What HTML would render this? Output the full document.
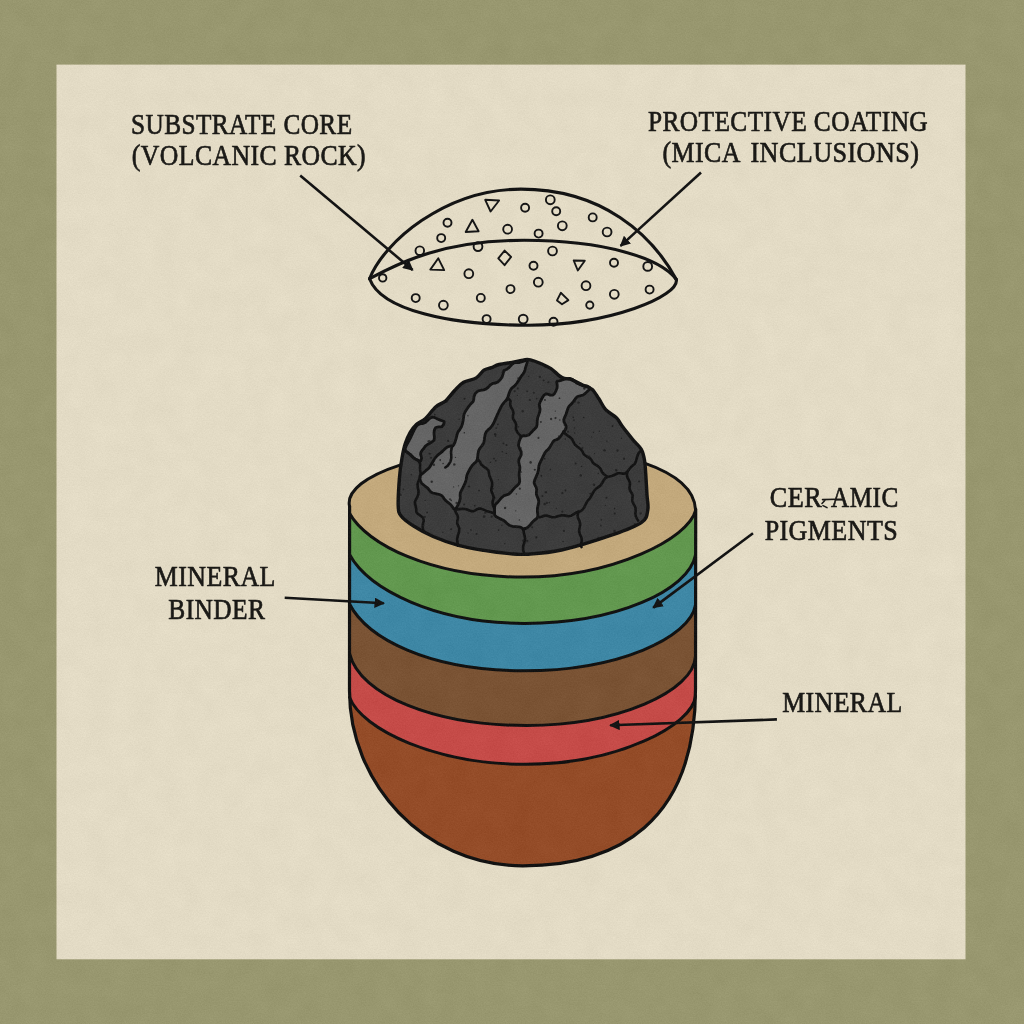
<!DOCTYPE html>
<html><head><meta charset="utf-8">
<style>
html,body{margin:0;padding:0;background:#98976f;}
svg{display:block;}
text{font-family:"Liberation Serif",serif;fill:#1b1a17;stroke:#1b1a17;stroke-width:0.7px;}
</style></head>
<body>
<svg width="1024" height="1024" viewBox="0 0 1024 1024">
<defs>
<marker id="ah" viewBox="0 0 10.5 10.5" refX="9.3" refY="5.25" markerWidth="10.5" markerHeight="10.5" markerUnits="userSpaceOnUse" orient="auto">
<path d="M0,0 L10.5,5.25 L0,10.5 Z" fill="#141414"/>
</marker>
<filter id="tex" x="0" y="0" width="1024" height="1024" filterUnits="userSpaceOnUse" color-interpolation-filters="sRGB">
<feTurbulence type="fractalNoise" baseFrequency="0.75" numOctaves="2" seed="7" result="n1"/>
<feColorMatrix in="n1" type="matrix" values="1 0 0 0 0  1 0 0 0 0  1 0 0 0 0  0 0 0 0 1" result="g1"/>
<feTurbulence type="fractalNoise" baseFrequency="0.045" numOctaves="3" seed="3" result="n2"/>
<feColorMatrix in="n2" type="matrix" values="1 0 0 0 0  1 0 0 0 0  1 0 0 0 0  0 0 0 0 1" result="g2"/>
<feComposite in="SourceGraphic" in2="g1" operator="arithmetic" k1="0" k2="1" k3="0.06" k4="-0.03" result="s1"/>
<feComposite in="s1" in2="g2" operator="arithmetic" k1="0" k2="1" k3="0.025" k4="-0.0125"/>
</filter>
</defs>
<g filter="url(#tex)">
<rect x="0" y="0" width="1024" height="1024" fill="#98976f"/>
<rect x="56.5" y="64.6" width="909" height="894.7" fill="#e3dbc5"/>

<!-- labels -->
<g font-size="30" letter-spacing="0.5">
<text transform="matrix(0.8429 0 0 1 131.01 0)" x="0" y="133.8">SUBSTRATE CORE</text>
<text transform="matrix(0.8572 0 0 1 131.84 0)" x="0" y="164.8">(VOLCANIC ROCK)</text>
<text transform="matrix(0.8456 0 0 1 647.95 0)" x="0" y="130.8">PROTECTIVE COATING</text>
<text transform="matrix(0.8633 0 0 1 662.54 0)" x="0" y="162.4">(MICA</text>
<text transform="matrix(0.8717 0 0 1 750.43 0)" x="0" y="162.4">INCLUSIONS)</text>
<text transform="matrix(0.8729 0 0 1 769.83 0)" x="0" y="507.4">CER</text>
<text transform="matrix(0.8410 0 0 1 831.10 0)" x="0" y="507.4">AMIC</text>
<text transform="matrix(0.8669 0 0 1 764.63 0)" x="0" y="540.0">PIGMENTS</text>
<text transform="matrix(0.8635 0 0 1 154.84 0)" x="0" y="586.3">MINERAL</text>
<text transform="matrix(0.8465 0 0 1 168.35 0)" x="0" y="618.6">BINDER</text>
<text transform="matrix(0.8599 0 0 1 782.24 0)" x="0" y="712.2">MINERAL</text>
<path d="M822.5,499.6 L836,499.2 M822,503.5 L825.5,499.8 M823,505.6 L827,507.6" fill="none" stroke="#1b1a17" stroke-width="1.6" stroke-linecap="round"/>
</g>

<!-- particles -->
<g fill="none" stroke="#161616" stroke-width="1.9" stroke-linejoin="round">
<circle cx="550.3" cy="199.8" r="4.4"/>
<circle cx="525.1" cy="207.8" r="4"/>
<circle cx="556.2" cy="211.2" r="4"/>
<circle cx="447.5" cy="222.8" r="4"/>
<circle cx="507.6" cy="229.2" r="4.4"/>
<circle cx="538.6" cy="233.6" r="4"/>
<circle cx="441.2" cy="238.1" r="4"/>
<circle cx="419.8" cy="250.7" r="4.3"/>
<circle cx="478" cy="246.6" r="4.4"/>
<circle cx="552.5" cy="251" r="4.4"/>
<circle cx="533.5" cy="265.7" r="4"/>
<circle cx="468.8" cy="273.7" r="4.4"/>
<circle cx="538.3" cy="282.2" r="4.4"/>
<circle cx="510.5" cy="289.1" r="4"/>
<circle cx="480.8" cy="297.9" r="4"/>
<circle cx="443.4" cy="305.2" r="4.4"/>
<circle cx="486.6" cy="319.1" r="4"/>
<circle cx="523.2" cy="319.1" r="4.4"/>
<circle cx="553.5" cy="321.8" r="4"/>
<circle cx="562.3" cy="225.8" r="4.4"/>
<circle cx="592.7" cy="217.4" r="4"/>
<circle cx="607.1" cy="232" r="4.4"/>
<circle cx="614" cy="262.8" r="4"/>
<circle cx="647.7" cy="266.4" r="4.4"/>
<circle cx="586" cy="285.7" r="4.4"/>
<circle cx="614.3" cy="294.3" r="4.4"/>
<circle cx="649.6" cy="289.6" r="4"/>
<circle cx="589.8" cy="305.1" r="3.6"/>
<circle cx="382.7" cy="277.9" r="3.7"/>
<circle cx="415.7" cy="298.1" r="4"/>
<path d="M485.2,199.8 L499.1,200.5 L490.6,211.5 Z"/>
<path d="M472.4,219.8 L478.6,231.3 L465.7,232 Z"/>
<path d="M438.3,258.3 L444.2,270.1 L430.3,269.6 Z"/>
<path d="M573.7,260.5 L584.8,260.8 L577.8,270.5 Z"/>
<path d="M504.6,250.6 L511.1,256.9 L504.6,265.2 L498.3,258.3 Z"/>
<path d="M560.8,292.8 L568.4,300.1 L562,304.2 L557,300.4 Z"/>
</g>
<!-- dome -->
<g fill="none" stroke="#141414" stroke-width="3.1" stroke-linecap="round" stroke-linejoin="round">
<path d="M369.6,278.7 C383.5,242.5 444.9,189.1 520.9,189.1 C602.2,189.1 652.1,234.5 676.3,279.5"/>
<path d="M369.6,278.7 C400.4,261.9 444.8,240.3 524.3,240.3 C604.6,240.3 660.9,258.3 676.3,279.5"/>
<path d="M369.6,278.7 C381.0,310.3 450.3,325.2 528.3,325.2 C610.5,325.2 679.6,295.9 676.3,279.5"/>
</g>

<!-- cup -->
<g stroke="none">
<path d="M349.5,508 L349.5,691 C349.5,782.3 423.1,865.5 522.5,865.8 C616.6,866 695.5,823 695.5,689 L695.5,508 Z" fill="#944c28"/>
<path d="M349.5,508 L349.5,697.3 C361.9,729.9 436.7,764.3 525.8,764.3 C618.6,764.3 692.7,724.9 695.5,696 L695.5,508 Z" fill="#c54b48"/>
<path d="M349.5,508 L349.5,653.3 C359.9,696.0 436.1,725.5 526.6,725.5 C617.4,725.5 693.9,691.8 695.5,656 L695.5,508 Z" fill="#7a5334"/>
<path d="M349.5,508 L349.5,604.0 C367.2,638.0 428,670.8 524.0,670.8 C617.2,670.8 690,638 695.5,605 L695.5,508 Z" fill="#3e87a5"/>
<path d="M349.5,508 L349.5,554.5 C368.8,589.5 435.4,623.4 524.6,623.4 C616.7,623.4 688.6,590.4 695.5,555 L695.5,508 Z" fill="#62984f"/>
<path d="M349.5,513.3 C366.3,544.0 431.0,577.1 522.9,577.1 C614.1,577.1 688.8,537.9 695.5,510.7 L695.5,509.6 C693.9,468.6 613.8,446.8 532.4,446.8 C431.4,446.8 343,475 349.5,506.3 Z" fill="#c3a97c"/>
</g>
<g fill="none" stroke="#121212" stroke-width="3" stroke-linecap="round">
<path d="M349.5,697.3 C361.9,729.9 436.7,764.3 525.8,764.3 C618.6,764.3 692.7,724.9 695.5,696"/>
<path d="M349.5,653.3 C359.9,696.0 436.1,725.5 526.6,725.5 C617.4,725.5 693.9,691.8 695.5,656"/>
<path d="M349.5,604.0 C367.2,638.0 428,670.8 524.0,670.8 C617.2,670.8 690,638 695.5,605"/>
<path d="M349.5,554.5 C368.8,589.5 435.4,623.4 524.6,623.4 C616.7,623.4 688.6,590.4 695.5,555"/>
<path d="M349.5,513.3 C366.3,544.0 431.0,577.1 522.9,577.1 C614.1,577.1 688.8,537.9 695.5,510.7 L695.5,509.6 C693.9,468.6 613.8,446.8 532.4,446.8 C431.4,446.8 343,475 349.5,506.3 Z"/>
<path stroke-width="3.2" d="M349.6,506 L349.5,691 C349.5,782.3 423.1,865.5 522.5,865.8 C616.6,866 695.5,823 695.5,689 L695.7,509"/>
</g>

<!-- rock -->
<g stroke="#141414" stroke-linejoin="round" stroke-linecap="round">
<path fill="#3c3c3c" stroke="none" d="M398.2,506.0 C397.9,499.6 398.8,486.1 399.4,478.1 C400.0,470.1 401.0,463.7 402.0,458.0 C403.0,452.3 403.8,448.2 405.2,443.9 C406.6,439.6 408.3,435.7 410.2,432.4 C412.1,429.1 414.1,426.5 416.6,424.2 C419.2,421.9 422.3,421.4 425.5,418.5 C428.7,415.6 432.2,410.0 435.6,407.0 C439.0,404.0 442.6,403.4 445.8,400.7 C449.0,397.9 451.7,393.6 454.7,390.5 C457.7,387.4 460.0,384.4 463.6,382.3 C467.2,380.2 472.8,379.9 476.2,377.9 C479.6,375.9 481.3,371.9 483.9,370.2 C486.4,368.5 489.0,368.6 491.5,367.7 C494.0,366.8 495.3,365.4 499.1,364.5 C502.9,363.6 510.0,362.8 514.3,362.0 C518.6,361.2 522.3,360.0 525.0,359.6 C527.7,359.2 528.0,359.2 530.5,359.8 C533.0,360.4 536.7,361.7 540.1,363.2 C543.5,364.7 547.4,366.3 551.0,368.7 C554.6,371.1 558.6,375.8 562.0,377.6 C565.4,379.4 568.1,378.4 571.5,379.6 C574.9,380.9 579.1,383.5 582.5,385.1 C585.9,386.7 589.3,386.9 592.0,389.2 C594.7,391.5 596.6,395.4 598.9,398.8 C601.2,402.2 602.8,406.5 605.7,409.7 C608.7,412.9 613.9,415.2 616.6,417.9 C619.3,420.6 619.4,422.5 622.1,426.1 C624.8,429.8 629.8,435.9 633.0,439.8 C636.2,443.7 639.4,445.9 641.3,449.3 C643.2,452.7 643.8,456.0 644.5,460.0 C645.2,464.0 645.3,467.3 645.7,473.1 C646.1,478.9 646.6,488.9 647.0,495.0 C647.4,501.1 648.7,505.4 647.8,510.0 C646.9,514.6 647.4,518.3 641.6,522.4 C635.8,526.5 626.2,530.1 612.9,534.7 C599.6,539.3 576.0,546.8 561.6,550.0 C547.2,553.2 535.4,553.6 526.7,554.2 C518.0,554.8 516.4,554.2 509.3,553.6 C502.2,553.0 492.4,551.8 483.9,550.4 C475.4,549.0 467.0,547.7 458.5,545.4 C450.0,543.1 440.5,539.7 433.1,536.5 C425.7,533.3 419.3,529.7 414.0,526.3 C408.7,522.9 403.9,519.6 401.3,516.2 C398.7,512.8 398.5,512.4 398.2,506.0 Z"/>
<path fill="#656565" stroke-width="2.8" d="M405.5,450.5 L405.2,448.5 L406.3,445.7 L408.5,441.7 L410.5,437.8 L411.6,435.5 L412.4,433.7 L413.1,432.2 L414.0,430.3 L415.2,428.0 L417.6,424.9 L420.3,423.7 L422.9,423.5 L425.4,422.4 L427.8,420.2 L429.9,418.3 L431.9,417.1 L433.9,417.3 L436.7,418.6 L440.3,420.1 L442.7,421.0 L444.1,421.6 L444.2,422.7 L443.3,424.9 L441.7,426.9 L438.7,426.9 L435.7,427.5 L434.3,430.1 L434.0,433.4 L434.4,437.1 L434.1,440.1 L432.2,441.7 L429.8,443.2 L427.5,444.5 L425.4,446.2 L423.6,448.6 L421.9,450.7 L420.9,452.4 L420.6,454.3 L421.6,458.0 L420.8,460.9 L418.9,460.6 L415.8,459.3 L413.2,457.5 L412.0,455.9 L410.3,454.3 L407.7,452.6 Z"/>
<path fill="#656565" stroke-width="2.8" d="M527.3,360.6 L525.8,360.5 L523.1,361.5 L519.6,362.5 L516.2,362.3 L513.9,362.8 L511.6,364.7 L509.2,367.4 L507.0,369.2 L505.1,370.0 L503.8,370.8 L503.1,373.9 L502.1,377.2 L500.4,379.5 L498.1,381.9 L495.5,383.0 L492.9,383.4 L490.6,384.8 L488.1,387.3 L485.8,389.2 L483.7,389.9 L481.7,390.1 L478.2,390.8 L475.3,393.5 L474.0,396.6 L473.8,399.4 L473.2,401.4 L471.2,403.4 L468.8,406.3 L466.8,409.2 L465.3,411.5 L464.2,413.8 L463.7,416.1 L463.5,418.0 L463.1,420.7 L462.4,424.0 L461.3,427.1 L459.9,429.3 L458.2,431.6 L457.4,433.4 L456.9,435.4 L456.1,438.6 L454.9,442.5 L453.6,445.0 L453.0,445.8 L452.0,446.0 L450.1,446.1 L447.5,446.8 L444.9,448.9 L442.7,451.1 L440.7,452.9 L439.0,454.2 L437.0,455.8 L434.6,458.6 L432.4,462.5 L430.8,465.3 L429.6,467.3 L428.0,468.9 L425.8,470.7 L423.0,473.1 L421.1,474.7 L419.8,476.2 L420.1,478.9 L420.4,480.8 L421.6,483.2 L424.7,485.8 L428.0,488.4 L429.7,490.6 L430.9,492.0 L432.8,493.0 L435.6,493.6 L438.8,494.3 L441.3,495.3 L442.9,496.7 L444.2,498.9 L447.0,501.7 L450.6,504.5 L452.6,507.1 L453.7,508.8 L455.1,509.1 L456.5,507.7 L458.0,504.9 L459.5,501.5 L460.3,498.2 L460.1,495.6 L460.3,493.1 L461.1,491.1 L462.5,488.4 L464.1,485.2 L465.4,482.1 L466.2,479.6 L466.5,477.8 L466.7,476.1 L467.3,474.2 L468.3,472.0 L470.1,468.6 L472.0,465.8 L473.7,463.9 L475.2,462.7 L476.5,461.3 L477.4,458.9 L477.7,456.5 L478.0,453.6 L478.6,450.7 L479.8,448.3 L481.4,446.4 L482.8,444.6 L483.8,442.6 L484.3,439.9 L484.7,436.9 L485.3,433.8 L486.5,431.4 L488.0,429.9 L489.9,428.4 L491.8,426.2 L493.6,423.3 L495.0,420.1 L496.1,417.7 L496.8,415.9 L497.6,414.2 L498.7,411.7 L500.3,408.3 L502.2,404.9 L504.2,402.4 L505.7,400.8 L506.8,399.5 L508.0,396.7 L509.1,393.3 L510.2,390.4 L511.5,388.4 L513.1,387.1 L515.0,385.5 L517.0,383.0 L518.9,379.9 L520.6,377.2 L521.9,375.3 L523.1,373.8 L524.1,372.2 L525.0,369.9 L525.6,367.4 L527.1,362.9 Z"/>
<path fill="#656565" stroke-width="2.8" d="M557.3,381.2 L559.4,380.8 L562.4,379.9 L566.0,378.6 L569.6,378.4 L572.4,379.3 L574.7,381.1 L576.6,382.9 L579.4,384.3 L582.9,385.3 L587.0,385.9 L589.4,387.3 L589.9,389.1 L588.6,390.3 L586.2,392.6 L583.2,395.0 L580.1,395.8 L577.5,396.5 L575.3,398.7 L573.3,401.7 L571.5,403.9 L570.1,405.2 L569.0,406.3 L567.9,408.4 L567.0,411.2 L566.0,414.2 L564.6,417.4 L563.8,419.6 L564.0,421.9 L565.3,424.3 L566.2,426.6 L565.9,428.7 L564.6,430.7 L562.9,433.0 L561.0,435.8 L559.0,438.2 L556.8,439.5 L554.8,440.2 L553.1,441.6 L551.3,444.6 L549.5,447.8 L547.9,449.6 L546.4,450.8 L545.1,452.5 L543.6,455.4 L542.3,458.2 L540.8,461.1 L539.4,464.2 L538.9,465.8 L538.7,467.6 L538.5,469.9 L537.6,473.2 L536.1,476.8 L534.7,480.1 L534.1,482.7 L534.9,485.1 L536.2,487.4 L536.7,489.7 L536.4,492.0 L536.4,494.4 L537.3,496.9 L538.4,499.3 L538.8,502.0 L538.1,505.1 L537.4,508.4 L537.4,511.7 L537.8,514.7 L537.7,517.0 L536.6,518.6 L534.6,520.0 L532.3,522.2 L529.9,525.3 L527.5,527.6 L525.5,528.6 L524.1,529.0 L523.0,529.7 L522.2,528.1 L521.0,527.4 L519.0,526.9 L516.0,526.7 L512.3,526.3 L509.2,525.2 L507.1,523.6 L505.5,521.9 L503.8,520.5 L499.7,518.4 L496.3,516.8 L494.8,515.2 L494.5,513.4 L494.4,510.5 L494.6,507.6 L495.0,505.3 L495.9,503.9 L497.4,502.6 L499.5,500.2 L501.6,497.7 L503.9,495.7 L506.4,494.9 L508.7,494.1 L511.0,492.2 L513.3,489.4 L515.5,486.9 L517.5,485.3 L519.0,483.8 L519.7,481.6 L519.5,478.8 L519.2,475.7 L519.2,472.8 L519.7,470.0 L519.9,467.3 L519.3,464.5 L518.7,461.8 L518.9,459.5 L520.0,457.3 L521.2,454.9 L521.2,451.7 L519.6,448.6 L518.5,445.4 L519.0,442.0 L520.3,438.6 L521.8,436.2 L523.7,435.6 L526.2,435.8 L528.8,434.9 L531.2,432.6 L533.4,430.1 L535.3,428.4 L536.6,426.8 L537.1,424.2 L537.2,421.3 L537.6,418.0 L538.8,414.6 L539.8,411.6 L540.1,409.2 L539.6,406.9 L539.3,404.4 L540.3,401.6 L541.9,398.5 L543.6,395.6 L545.6,394.0 L548.0,394.2 L550.3,395.1 L552.6,395.2 L554.5,393.6 L556.0,390.9 L557.1,387.7 L557.2,384.7 L556.7,382.4 Z"/>
<path fill="none" stroke-width="2.6" d="M406.2,452.0 L408.2,453.2 L410.4,454.9 L411.9,456.6 L413.8,458.0 L416.2,459.4 L419.0,461.6 L420.2,464.2 L420.0,467.1 L420.1,469.9 L420.6,473.0 L420.5,475.5 L420.0,477.8 L419.2,479.6 L418.2,481.7 L417.5,484.3 L417.8,487.4 L418.5,491.1 L418.4,494.0 L417.4,496.9 L415.9,499.5 L414.9,501.7 L415.1,504.1 L415.8,506.7 L416.2,509.1 L416.4,512.0 L417.7,513.8 L420.3,515.6 L423.0,517.8 L423.8,520.3 L423.1,523.3 L422.6,526.6 L423.0,529.6 L423.8,531.6"/>
<path fill="none" stroke-width="2.6" d="M455.1,509.1 L455.2,510.8 L456.1,513.0 L457.5,515.4 L458.0,518.1 L457.3,520.7 L457.2,523.4 L458.3,526.0 L459.3,528.4 L459.1,531.7 L457.9,535.4 L457.1,539.0 L457.3,542.1 L457.8,544.3 L458.0,545.8"/>
<path fill="none" stroke-width="2.6" d="M455.1,509.5 L456.7,509.5 L459.3,509.1 L462.8,508.8 L466.4,509.3 L469.5,510.5 L471.8,511.3 L474.2,511.0 L476.4,509.7 L478.6,508.6 L480.8,508.6 L483.0,509.4 L486.4,510.9 L490.3,512.1 L493.1,512.9 L494.5,513.4"/>
<path fill="none" stroke-width="2.6" d="M478.3,459.8 L479.5,461.1 L480.4,462.7 L481.3,464.6 L483.6,466.6 L486.7,468.6 L488.5,470.7 L488.9,472.6 L489.4,475.7 L490.7,478.8 L492.0,481.9 L492.2,485.1 L491.6,487.7 L491.2,490.1 L491.8,492.4 L493.0,494.8 L493.7,497.1 L493.3,499.4 L492.5,502.2 L492.9,505.2 L494.3,508.4 L494.7,511.3 L494.5,513.4"/>
<path fill="none" stroke-width="2.6" d="M537.7,517.0 L539.5,517.1 L541.7,516.7 L544.0,515.8 L546.4,515.5 L549.0,516.3 L552.0,517.3 L555.4,517.0 L558.7,515.9 L561.7,515.2 L565.4,515.6 L568.6,516.2 L571.3,515.7 L573.8,514.1 L576.2,512.5 L578.6,511.7 L580.6,511.2 L582.5,509.8 L584.3,507.3 L585.7,504.3 L587.0,501.8 L588.2,500.2 L589.7,498.6 L590.9,496.7 L592.4,493.8 L594.1,490.8 L596.2,488.6 L598.3,487.2 L600.4,485.6 L602.2,483.0 L603.9,480.0 L605.6,477.8 L607.3,476.8 L609.7,476.5 L612.4,475.8 L615.2,474.5 L618.0,473.3 L620.5,473.2 L622.8,473.6 L625.1,473.4 L627.5,471.5 L629.4,469.0 L631.4,466.7 L633.3,465.1 L634.8,463.7 L636.0,461.3 L636.8,458.0 L637.8,454.9 L638.8,452.8 L640.0,451.6 L641.0,450.8"/>
<path fill="none" stroke-width="2.6" d="M563.5,431.3 L564.0,432.3 L565.1,433.6 L567.2,435.2 L569.9,437.1 L572.2,439.3 L573.3,441.7 L574.6,444.2 L577.5,446.7 L580.8,449.2 L582.5,451.5 L583.2,453.2 L584.6,455.0 L587.4,456.8 L590.3,458.7 L591.8,460.5 L592.7,462.5 L595.0,464.4 L598.1,466.4 L600.3,468.4 L601.2,470.4 L602.1,472.3 L603.7,474.0 L605.7,475.6 L607.3,476.8"/>
<path fill="none" stroke-width="2.6" d="M578.6,511.7 L578.1,513.2 L577.6,515.3 L578.0,517.9 L579.5,521.1 L580.2,524.5 L579.6,527.8 L579.1,530.9 L579.9,534.3 L581.5,537.7 L581.8,540.8 L581.2,543.5 L581.0,545.6 L581.5,547.1"/>
<path fill="none" stroke-width="2.6" d="M627.5,471.5 L627.1,473.1 L626.9,475.2 L627.5,477.6 L628.9,480.2 L630.0,482.9 L629.8,485.6 L629.4,488.2 L630.2,490.8 L631.8,493.3 L632.7,495.6 L632.4,498.3 L632.3,501.3 L633.8,504.4 L635.5,507.6 L635.7,510.8 L635.3,513.8 L635.9,516.5 L637.1,518.8 L638.1,520.6"/>
<path fill="none" stroke-width="2.6" d="M524.4,528.4 L523.8,529.9 L523.6,532.0 L524.4,534.9 L525.1,538.6 L524.3,542.7 L523.1,546.6 L523.1,549.8 L523.8,552.2 L524.3,553.7"/>
<path fill="none" stroke-width="2.6" d="M506.8,399.5 L508.5,398.7 L510.5,400.8 L510.3,402.6 L510.2,404.8 L511.1,407.5 L512.8,410.2 L513.5,413.1 L512.9,415.8 L513.0,418.5 L514.5,421.0 L515.8,423.3 L516.2,425.3 L515.9,429.2 L517.4,432.3 L519.4,434.5 L520.5,436.1"/>
<path fill="none" stroke-width="2.6" d="M452.0,446.0 L451.6,448.6 L451.0,451.9 L451.2,454.5 L451.3,457.9 L450.5,461.6 L447.7,465.8 L445.3,467.5"/>
<g fill="#1e1e1e" stroke="none" opacity="0.8"><circle cx="598.3" cy="473.5" r="0.67"/><circle cx="506.3" cy="453.4" r="0.71"/><circle cx="495.8" cy="460.8" r="0.90"/><circle cx="544.7" cy="503.9" r="1.27"/><circle cx="469.1" cy="486.5" r="1.09"/><circle cx="476.5" cy="533.9" r="1.01"/><circle cx="515.8" cy="510.8" r="0.62"/><circle cx="574.7" cy="433.0" r="0.66"/><circle cx="563.1" cy="541.6" r="0.75"/><circle cx="555.5" cy="418.1" r="1.12"/><circle cx="578.5" cy="402.6" r="1.18"/><circle cx="562.4" cy="493.1" r="1.17"/><circle cx="505.1" cy="507.9" r="1.21"/><circle cx="423.6" cy="525.7" r="0.88"/><circle cx="517.9" cy="388.5" r="1.09"/><circle cx="471.0" cy="529.9" r="0.79"/><circle cx="538.5" cy="437.9" r="1.03"/><circle cx="584.7" cy="506.7" r="1.00"/><circle cx="639.1" cy="481.6" r="1.02"/><circle cx="640.6" cy="513.5" r="1.15"/><circle cx="411.5" cy="432.0" r="0.66"/><circle cx="446.4" cy="401.7" r="1.20"/><circle cx="429.7" cy="417.9" r="0.94"/><circle cx="575.0" cy="401.7" r="0.98"/><circle cx="568.0" cy="431.8" r="1.01"/><circle cx="565.4" cy="490.5" r="0.97"/><circle cx="536.7" cy="398.6" r="0.95"/><circle cx="429.4" cy="453.7" r="0.98"/><circle cx="591.5" cy="436.8" r="0.61"/><circle cx="529.9" cy="400.0" r="1.12"/><circle cx="495.2" cy="434.2" r="1.24"/><circle cx="496.2" cy="428.0" r="0.84"/><circle cx="518.2" cy="378.2" r="0.98"/><circle cx="628.4" cy="469.8" r="1.12"/><circle cx="634.8" cy="524.2" r="1.12"/><circle cx="601.3" cy="519.9" r="0.78"/><circle cx="518.5" cy="426.8" r="0.78"/><circle cx="540.9" cy="422.0" r="1.03"/><circle cx="543.6" cy="380.4" r="0.91"/><circle cx="495.5" cy="497.8" r="0.66"/><circle cx="440.2" cy="460.0" r="0.88"/><circle cx="564.3" cy="424.9" r="0.74"/><circle cx="434.8" cy="414.6" r="0.84"/><circle cx="454.3" cy="464.6" r="1.26"/><circle cx="429.5" cy="441.0" r="1.07"/><circle cx="433.9" cy="464.8" r="1.22"/><circle cx="411.3" cy="474.7" r="0.72"/><circle cx="532.6" cy="361.7" r="0.64"/><circle cx="501.9" cy="525.2" r="0.77"/><circle cx="565.3" cy="439.0" r="0.79"/><circle cx="574.0" cy="420.1" r="0.86"/><circle cx="589.3" cy="456.6" r="1.15"/><circle cx="527.1" cy="391.2" r="0.91"/><circle cx="616.2" cy="470.2" r="1.28"/><circle cx="590.3" cy="493.8" r="0.99"/><circle cx="563.9" cy="530.9" r="1.08"/><circle cx="534.8" cy="469.7" r="1.07"/><circle cx="479.0" cy="490.5" r="1.03"/><circle cx="594.5" cy="453.6" r="0.62"/><circle cx="532.2" cy="527.2" r="1.05"/><circle cx="558.9" cy="436.2" r="0.85"/><circle cx="614.6" cy="530.9" r="1.27"/><circle cx="621.5" cy="438.2" r="0.79"/><circle cx="493.6" cy="488.6" r="0.71"/><circle cx="519.8" cy="488.7" r="1.10"/><circle cx="506.5" cy="445.0" r="0.99"/><circle cx="468.0" cy="532.9" r="0.75"/><circle cx="533.7" cy="392.8" r="1.03"/><circle cx="431.7" cy="481.8" r="1.22"/><circle cx="448.1" cy="440.9" r="1.10"/><circle cx="582.5" cy="448.0" r="1.05"/><circle cx="565.2" cy="428.9" r="1.06"/><circle cx="542.4" cy="496.0" r="0.96"/><circle cx="482.1" cy="444.7" r="1.25"/><circle cx="464.5" cy="398.7" r="1.02"/><circle cx="519.3" cy="520.0" r="0.75"/><circle cx="617.5" cy="450.5" r="1.17"/><circle cx="598.5" cy="537.6" r="0.95"/><circle cx="550.4" cy="469.4" r="0.73"/><circle cx="523.4" cy="540.7" r="1.24"/><circle cx="403.4" cy="489.4" r="0.83"/><circle cx="528.1" cy="434.8" r="0.96"/><circle cx="605.3" cy="505.6" r="0.64"/><circle cx="451.1" cy="529.2" r="0.95"/><circle cx="562.4" cy="511.6" r="1.05"/><circle cx="581.5" cy="466.4" r="0.76"/><circle cx="400.6" cy="494.7" r="1.22"/><circle cx="497.8" cy="424.3" r="0.92"/><circle cx="504.9" cy="543.7" r="0.68"/><circle cx="509.8" cy="492.2" r="1.04"/><circle cx="498.3" cy="479.7" r="0.62"/><circle cx="606.9" cy="441.2" r="0.77"/><circle cx="453.6" cy="486.9" r="0.63"/><circle cx="459.1" cy="419.3" r="0.78"/><circle cx="580.7" cy="475.5" r="1.23"/><circle cx="573.2" cy="417.4" r="0.83"/><circle cx="549.2" cy="502.5" r="0.81"/><circle cx="484.1" cy="516.6" r="1.27"/><circle cx="587.8" cy="456.7" r="0.90"/><circle cx="556.4" cy="508.3" r="0.65"/><circle cx="502.2" cy="451.6" r="0.79"/><circle cx="544.9" cy="400.0" r="0.97"/><circle cx="624.1" cy="458.7" r="1.18"/><circle cx="442.8" cy="532.3" r="0.69"/><circle cx="451.2" cy="500.4" r="0.81"/><circle cx="593.5" cy="432.2" r="0.73"/><circle cx="614.8" cy="513.6" r="1.07"/><circle cx="530.6" cy="462.4" r="1.28"/><circle cx="528.6" cy="376.4" r="0.65"/><circle cx="546.9" cy="502.9" r="1.04"/><circle cx="583.7" cy="417.4" r="0.86"/><circle cx="464.3" cy="432.7" r="0.79"/><circle cx="450.0" cy="499.2" r="0.88"/><circle cx="483.3" cy="550.0" r="1.23"/><circle cx="521.1" cy="472.0" r="0.84"/><circle cx="545.9" cy="492.2" r="1.17"/><circle cx="458.5" cy="485.8" r="0.64"/><circle cx="427.1" cy="512.4" r="0.86"/><circle cx="521.2" cy="447.9" r="0.74"/><circle cx="612.6" cy="426.0" r="0.89"/><circle cx="464.1" cy="504.5" r="1.09"/><circle cx="494.0" cy="458.7" r="0.88"/><circle cx="541.3" cy="475.8" r="1.00"/><circle cx="410.8" cy="434.1" r="0.63"/><circle cx="491.7" cy="516.6" r="1.08"/><circle cx="539.8" cy="376.8" r="1.17"/><circle cx="551.1" cy="419.0" r="1.15"/><circle cx="431.0" cy="457.8" r="1.10"/><circle cx="545.3" cy="367.2" r="0.79"/><circle cx="574.6" cy="427.9" r="0.74"/><circle cx="536.3" cy="537.4" r="1.09"/><circle cx="468.2" cy="486.5" r="0.68"/><circle cx="522.7" cy="411.3" r="1.21"/><circle cx="614.5" cy="508.6" r="0.86"/><circle cx="490.4" cy="462.4" r="0.71"/><circle cx="425.1" cy="500.4" r="0.64"/><circle cx="548.3" cy="382.2" r="1.07"/><circle cx="495.5" cy="435.9" r="0.88"/><circle cx="574.5" cy="513.6" r="0.68"/><circle cx="456.7" cy="503.1" r="1.26"/><circle cx="498.5" cy="530.1" r="0.95"/><circle cx="485.4" cy="512.6" r="1.21"/><circle cx="434.5" cy="460.8" r="0.70"/><circle cx="443.1" cy="463.5" r="0.78"/><circle cx="599.3" cy="431.3" r="0.73"/><circle cx="555.3" cy="411.1" r="0.65"/><circle cx="430.8" cy="453.7" r="0.60"/><circle cx="527.2" cy="541.1" r="1.23"/><circle cx="474.7" cy="505.7" r="0.97"/><circle cx="594.0" cy="484.8" r="1.28"/><circle cx="516.7" cy="526.4" r="1.18"/><circle cx="544.7" cy="458.7" r="0.90"/><circle cx="559.5" cy="398.2" r="0.91"/><circle cx="559.8" cy="419.9" r="0.75"/><circle cx="424.6" cy="516.9" r="1.21"/><circle cx="606.5" cy="497.8" r="1.02"/><circle cx="516.4" cy="493.9" r="0.68"/><circle cx="584.4" cy="388.6" r="1.27"/><circle cx="575.7" cy="463.5" r="1.06"/><circle cx="455.5" cy="457.3" r="0.66"/><circle cx="467.9" cy="415.7" r="0.72"/><circle cx="502.0" cy="372.3" r="0.62"/><circle cx="579.8" cy="443.4" r="0.74"/><circle cx="428.4" cy="441.2" r="1.06"/><circle cx="604.5" cy="450.2" r="1.20"/><circle cx="600.8" cy="525.7" r="0.83"/><circle cx="514.7" cy="391.3" r="1.01"/><circle cx="408.6" cy="451.6" r="0.71"/><circle cx="517.4" cy="395.3" r="0.60"/><circle cx="503.4" cy="443.5" r="0.98"/></g>
<path fill="none" stroke-width="3.4" d="M398.2,506.0 C397.9,499.6 398.8,486.1 399.4,478.1 C400.0,470.1 401.0,463.7 402.0,458.0 C403.0,452.3 403.8,448.2 405.2,443.9 C406.6,439.6 408.3,435.7 410.2,432.4 C412.1,429.1 414.1,426.5 416.6,424.2 C419.2,421.9 422.3,421.4 425.5,418.5 C428.7,415.6 432.2,410.0 435.6,407.0 C439.0,404.0 442.6,403.4 445.8,400.7 C449.0,397.9 451.7,393.6 454.7,390.5 C457.7,387.4 460.0,384.4 463.6,382.3 C467.2,380.2 472.8,379.9 476.2,377.9 C479.6,375.9 481.3,371.9 483.9,370.2 C486.4,368.5 489.0,368.6 491.5,367.7 C494.0,366.8 495.3,365.4 499.1,364.5 C502.9,363.6 510.0,362.8 514.3,362.0 C518.6,361.2 522.3,360.0 525.0,359.6 C527.7,359.2 528.0,359.2 530.5,359.8 C533.0,360.4 536.7,361.7 540.1,363.2 C543.5,364.7 547.4,366.3 551.0,368.7 C554.6,371.1 558.6,375.8 562.0,377.6 C565.4,379.4 568.1,378.4 571.5,379.6 C574.9,380.9 579.1,383.5 582.5,385.1 C585.9,386.7 589.3,386.9 592.0,389.2 C594.7,391.5 596.6,395.4 598.9,398.8 C601.2,402.2 602.8,406.5 605.7,409.7 C608.7,412.9 613.9,415.2 616.6,417.9 C619.3,420.6 619.4,422.5 622.1,426.1 C624.8,429.8 629.8,435.9 633.0,439.8 C636.2,443.7 639.4,445.9 641.3,449.3 C643.2,452.7 643.8,456.0 644.5,460.0 C645.2,464.0 645.3,467.3 645.7,473.1 C646.1,478.9 646.6,488.9 647.0,495.0 C647.4,501.1 648.7,505.4 647.8,510.0 C646.9,514.6 647.4,518.3 641.6,522.4 C635.8,526.5 626.2,530.1 612.9,534.7 C599.6,539.3 576.0,546.8 561.6,550.0 C547.2,553.2 535.4,553.6 526.7,554.2 C518.0,554.8 516.4,554.2 509.3,553.6 C502.2,553.0 492.4,551.8 483.9,550.4 C475.4,549.0 467.0,547.7 458.5,545.4 C450.0,543.1 440.5,539.7 433.1,536.5 C425.7,533.3 419.3,529.7 414.0,526.3 C408.7,522.9 403.9,519.6 401.3,516.2 C398.7,512.8 398.5,512.4 398.2,506.0 Z"/>
</g>

<!-- arrows -->
<g stroke="#141414" stroke-width="2.6" fill="none" marker-end="url(#ah)">
<line x1="300.2" y1="175.4" x2="412.6" y2="269.9"/>
<line x1="701" y1="172.5" x2="620.6" y2="245.9"/>
<line x1="284.7" y1="597.7" x2="383.8" y2="603.3"/>
<line x1="753" y1="533.3" x2="653.3" y2="607.6"/>
<line x1="776.9" y1="719.4" x2="610.3" y2="725.3"/>
</g>
</g>
</svg>
</body></html>
